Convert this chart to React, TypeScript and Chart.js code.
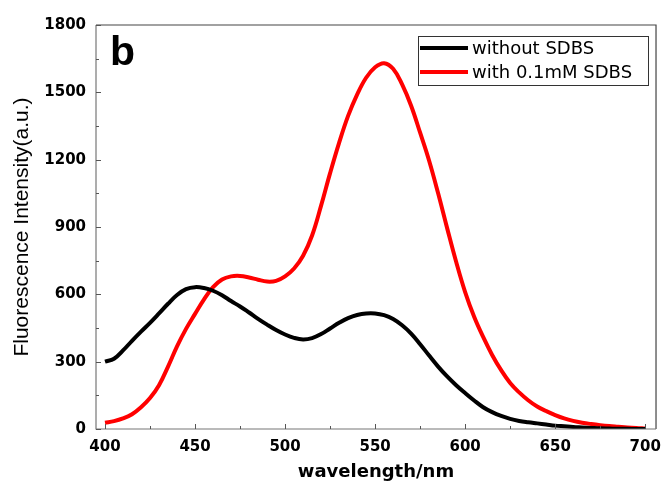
import React, { useEffect, useRef } from "react";
import { Chart, registerables } from "chart.js";

Chart.register(...registerables);

const wavelengths = [
  400, 405, 410, 415, 420, 425, 430, 435, 440, 445, 450, 455, 460, 465, 470, 475, 480, 485, 490, 495,
  500, 505, 510, 515, 520, 525, 530, 535, 540, 545, 550, 555, 560, 565, 570, 575, 580, 585, 590, 595,
  600, 605, 610, 615, 620, 625, 630, 635, 640, 645, 650, 655, 660, 665, 670, 675, 680, 685, 690, 695, 700,
];

const withoutSDBS = [
  300, 313, 350, 393, 434, 473, 515, 558, 597, 623, 632, 628, 616, 596, 570, 546, 519, 491, 465, 441,
  421, 406, 399, 405, 423, 448, 473, 494, 508, 515, 515, 507, 490, 462, 425, 378, 327, 278, 234, 195,
  160, 127, 97, 75, 58, 45, 36, 30, 25, 20, 15, 12, 9, 7, 5, 3, 2, 1, 1, 0, 0,
];

const withSDBS = [
  28, 35, 47, 66, 97, 138, 195, 278, 368, 446, 513, 578, 632, 666, 680, 682, 675, 665, 657, 660,
  680, 715, 772, 862, 995, 1140, 1275, 1395, 1490, 1565, 1612, 1630, 1605, 1535, 1440, 1320, 1195, 1050, 895, 745,
  610, 500, 410, 330, 262, 205, 163, 128, 100, 80, 62, 47, 36, 28, 22, 17, 13, 10, 7, 5, 2,
];

const seriesLabels = ["without SDBS", "with 0.1mM SDBS"];
const seriesColors = ["#000000", "#ff0000"];

const xTicks = [400, 450, 500, 550, 600, 650, 700];
const xMinorTicks = [425, 475, 525, 575, 625, 675];
const yTicks = [0, 300, 600, 900, 1200, 1500, 1800];
const yMinorTicks = [150, 450, 750, 1050, 1350, 1650];

const panelLabel = "b";
const xTitle = "wavelength/nm";
const yTitle = "Fluorescence Intensity(a.u.)";

const framePlugin = {
  id: "frameTicks",
  afterDatasetsDraw(chart: any) {
    const { ctx, chartArea } = chart;
    const xs = chart.scales.x;
    const ys = chart.scales.y;
    const { left, right, top, bottom } = chartArea;
    ctx.save();
    // frame
    ctx.lineWidth = 1.2;
    ctx.strokeStyle = "#444444";
    ctx.beginPath();
    ctx.moveTo(left, top);
    ctx.lineTo(right, top);
    ctx.lineTo(right, bottom);
    ctx.stroke();
    ctx.strokeStyle = "#777777";
    ctx.beginPath();
    ctx.moveTo(left, top);
    ctx.lineTo(left, bottom);
    ctx.lineTo(right, bottom);
    ctx.stroke();
    // ticks (inward)
    ctx.lineWidth = 1;
    ctx.strokeStyle = "#555555";
    ctx.beginPath();
    xTicks.forEach((v) => {
      const px = Math.round(xs.getPixelForValue(v)) + 0.5;
      ctx.moveTo(px, bottom);
      ctx.lineTo(px, bottom - 5);
    });
    xMinorTicks.forEach((v) => {
      const px = Math.round(xs.getPixelForValue(v)) + 0.5;
      ctx.moveTo(px, bottom);
      ctx.lineTo(px, bottom - 3);
    });
    yTicks.forEach((v) => {
      const py = Math.round(ys.getPixelForValue(v)) + 0.5;
      ctx.moveTo(left, py);
      ctx.lineTo(left + 5, py);
    });
    yMinorTicks.forEach((v) => {
      const py = Math.round(ys.getPixelForValue(v)) + 0.5;
      ctx.moveTo(left, py);
      ctx.lineTo(left + 3, py);
    });
    ctx.stroke();

    // panel label
    ctx.fillStyle = "#000000";
    ctx.font = "bold 41px 'Liberation Sans', Arial, sans-serif";
    ctx.textAlign = "left";
    ctx.textBaseline = "alphabetic";
    ctx.fillText(panelLabel, left + 14, top + 40);

    // legend box
    const bx = 418, by = 36, bw = 230, bh = 49;
    ctx.fillStyle = "#ffffff";
    ctx.fillRect(bx, by, bw, bh);
    ctx.strokeStyle = "#333333";
    ctx.lineWidth = 1;
    ctx.strokeRect(bx + 0.5, by + 0.5, bw, bh);
    chart.data.datasets.forEach((ds: any, i: number) => {
      const ly = by + 12 + i * 24;
      ctx.strokeStyle = ds.borderColor;
      ctx.lineWidth = 4;
      ctx.beginPath();
      ctx.moveTo(bx + 2, ly);
      ctx.lineTo(bx + 50, ly);
      ctx.stroke();
      ctx.fillStyle = "#000000";
      ctx.font = "18px 'DejaVu Sans', sans-serif";
      ctx.textBaseline = "middle";
      ctx.fillText(ds.label, bx + 54, ly + 1);
    });
    ctx.restore();
  },
};

export default function App() {
  const canvasRef = useRef<HTMLCanvasElement | null>(null);

  useEffect(() => {
    const canvas = canvasRef.current;
    if (!canvas) return;
    const chart = new Chart(canvas, {
      type: "line",
      data: {
        datasets: [withoutSDBS, withSDBS].map((vals, i) => ({
          label: seriesLabels[i],
          data: wavelengths.map((w, j) => ({ x: w, y: vals[j] })),
          borderColor: seriesColors[i],
          backgroundColor: seriesColors[i],
          borderWidth: 4,
          pointRadius: 0,
          tension: 0.4,
          fill: false,
        })),
      },
      options: {
        responsive: false,
        animation: false,
        layout: { padding: { left: 0, right: 7, top: 25, bottom: 0 } },
        plugins: {
          legend: { display: false },
          tooltip: { enabled: false },
        },
        scales: {
          x: {
            type: "linear",
            min: 395,
            max: 706,
            afterBuildTicks: (scale: any) => {
              scale.ticks = xTicks.map((v) => ({ value: v }));
            },
            afterFit: (scale: any) => {
              scale.height = 54;
            },
            grid: { display: false, drawTicks: false },
            border: { display: false },
            ticks: {
              padding: 9,
              color: "#000000",
              callback: (v: any) => String(v),
              font: { family: "'DejaVu Sans', sans-serif", size: 15, weight: "bold" },
              maxRotation: 0,
            },
            title: {
              display: true,
              text: xTitle,
              color: "#000000",
              font: { family: "'DejaVu Sans', sans-serif", size: 18, weight: "bold" },
              padding: { top: 0, bottom: 0 },
            },
          },
          y: {
            type: "linear",
            min: 0,
            max: 1800,
            afterBuildTicks: (scale: any) => {
              scale.ticks = yTicks.map((v) => ({ value: v }));
            },
            afterFit: (scale: any) => {
              scale.width = 96;
            },
            grid: { display: false, drawTicks: false },
            border: { display: false },
            ticks: {
              padding: 10,
              color: "#000000",
              callback: (v: any) => String(v),
              font: { family: "'DejaVu Sans', sans-serif", size: 15, weight: "bold" },
            },
            title: {
              display: true,
              text: yTitle,
              color: "#000000",
              font: { family: "'Liberation Sans', Arial, sans-serif", size: 21 },
              padding: { top: 10, bottom: 0 },
            },
          },
        },
      },
      plugins: [framePlugin],
    });
    return () => chart.destroy();
  }, []);

  return (
    <div style={{ position: "absolute", left: 0, top: 0, width: 670, height: 483, background: "#ffffff" }}>
      <canvas ref={canvasRef} width={670} height={483} />
    </div>
  );
}
